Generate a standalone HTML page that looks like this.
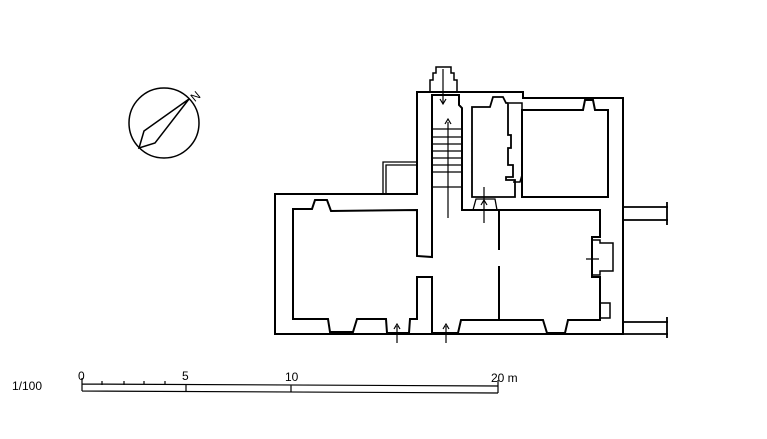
<!DOCTYPE html>
<html><head><style>
html,body{margin:0;padding:0;background:#fff;}
svg{display:block;}
text{font-family:"Liberation Sans",sans-serif;fill:#000;}
</style></head><body>
<svg width="767" height="439" viewBox="0 0 767 439" xmlns="http://www.w3.org/2000/svg">
<g fill="none" stroke="#000" stroke-width="2" stroke-linejoin="miter">
<!-- compass -->
<circle cx="164" cy="123" r="35" stroke-width="1.5"/>
<path d="M139,148 L144,131 L189,99 L155,143 Z" stroke-width="1.5"/>
<!-- annex -->
<path d="M383,194 L383,162 L417,162 M386,194 L386,165 L417,165" stroke-width="1.3"/>
<!-- chimney top -->
<path d="M430,92 L430,80 L433,80 L433,73 L436,73 L436,67 L451,67 L451,73 L454,73 L454,80 L457,80 L457,92" stroke-width="1.5"/>
<!-- outer outline -->
<path d="M275,194 L417,194 L417,92 L523,92 L523,98 L623,98 L623,334 L275,334 Z"/>
<!-- main open space: left room + stair + hall + lower right room -->
<path d="M293,209 L312,209 L315,200 L327,200 L331,211 L417,210 L417,256 L432,257 L432,95 L459,95 L459,105 L462,108 L462,210 L600,210 L600,237 L592,237 L592,277 L600,277 L600,320 L568,320 L565,333 L547,333 L543,320 L461,320 L458,333 L432,333 L432,277 L417,277 L417,319 L410,319 L409,333 L387,333 L386,319 L357,319 L353,332 L330,332 L328,319 L293,319 Z"/>
<!-- right room fireplace -->
<path d="M592,240 L600,240 L600,243 L613,243 L613,271 L600,271 L600,275 L592,275" stroke-width="1.5"/>
<rect x="600" y="303" width="10" height="15" stroke-width="1.5"/>
<!-- upper left room -->
<path d="M472,107 L490,107 L493,97 L503,97 L506,103 L508,103 L508,135 L511,135 L511,148 L508,148 L508,165 L513,165 L513,177 L506,177 L506,180 L515,180 L515,197 L472,197 Z" stroke-width="1.8"/>
<path d="M509,103 L522,103 L522,175 L520,182 L513,182" stroke-width="1.5"/>
<!-- upper right room -->
<path d="M522,110 L583,110 L585,100 L593,100 L595,110 L608,110 L608,197 L522,197 Z"/>
<!-- stair treads -->
<path d="M432,129 L462,129 M432,137 L462,137 M432,144 L462,144 M432,151 L462,151 M432,158 L462,158 M432,165 L462,165 M432,172 L462,172 M432,187 L462,187" stroke-width="1.2"/>
<!-- door upper -->
<path d="M473,210 L476,199 L495,199 L497,210" stroke-width="1.3"/>
<!-- partition -->
<path d="M499,210 L499,250 M499,266 L499,320" stroke-width="2"/>
<!-- extensions -->
<path d="M623,207 L668,207 M623,220 L668,220 M623,322 L668,322 M623,334 L668,334 M667,202 L667,225 M667,317 L667,338" stroke-width="1.8"/>
<!-- arrows -->
<path d="M448,122 L448,218 M397,326 L397,343 M446,326 L446,343 M484,187 L484,223 M586,259 L599,259 M443,69 L443,104" stroke-width="1.2"/>
<path d="M445,124 L448,119 L451,124 M394,329 L397,324 L400,329 M443,329 L446,324 L449,329 M481,205 L484,200 L487,205 M440,99 L443,104 L446,99" stroke-width="1.2"/>
<!-- scale bar -->
<path d="M82,384 L498,386 M82,391 L498,393 M82,378 L82,391 M498,380 L498,393 M291,385 L291,392 M186,384 L186,391 M102,381 L102,385 M124,381 L124,385 M144,381 L144,385 M165,381 L165,385" stroke-width="1.2"/>
</g>
<text x="191" y="100" font-size="12" transform="rotate(-40 196 96)">N</text>
<text x="12" y="390" font-size="12">1/100</text>
<text x="78" y="380" font-size="12">0</text>
<text x="182" y="380" font-size="12">5</text>
<text x="285" y="381" font-size="12">10</text>
<text x="491" y="382" font-size="12">20 m</text>
</svg>
</body></html>
